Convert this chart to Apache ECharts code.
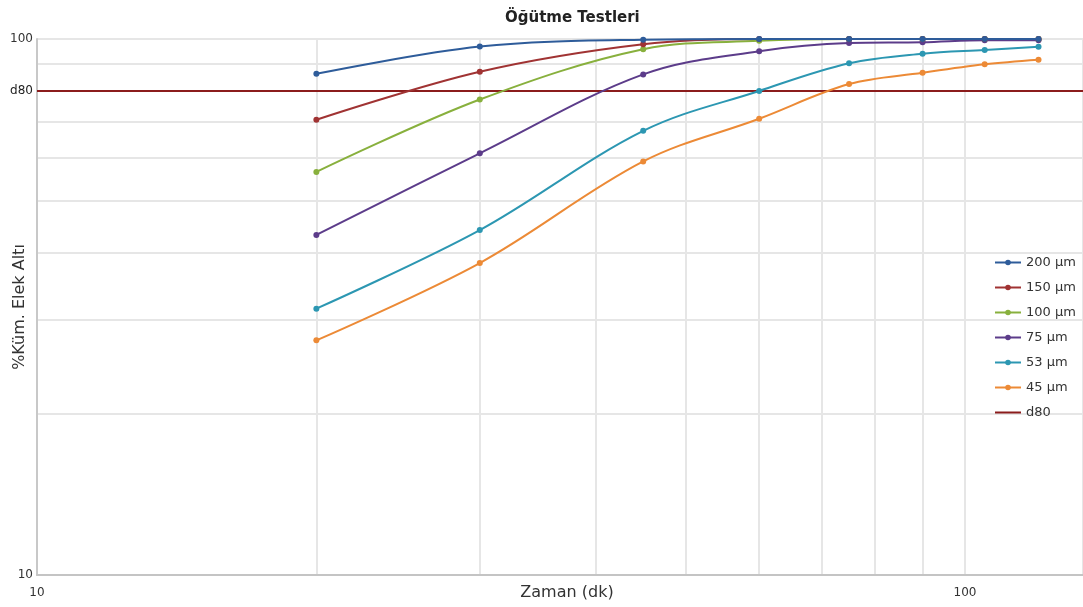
<!DOCTYPE html>
<html>
<head>
<meta charset="utf-8">
<script src="https://cdn.jsdelivr.net/npm/echarts@6/dist/echarts.min.js"></script>
<style>
    html, body { margin: 0; padding: 0; background: #fff; }
    #chart { width: 1083px; height: 607px; }
</style>
</head>
<body>
<div id="chart"></div>
<script>
// grinding test data, time in minutes (log x) vs cumulative passing % (log y)
var xTimes = [20, 30, 45, 60, 75, 90, 105, 120];
var seriesNames = ['200 µm', '150 µm', '100 µm', '75 µm', '53 µm', '45 µm'];
var s200 = [86.1, 96.8, 99.7, 100, 100, 100, 100, 100];
var s150 = [70.7, 86.9, 97.8, 100, 100, 100, 100, 100];
var s100 = [56.5, 77.1, 95.7, 99.2, 100, 100, 100, 100];
var s75 = [43.1, 61.2, 85.9, 94.9, 98.3, 98.6, 99.5, 99.5];
var s53 = [31.4, 44.0, 67.4, 80.0, 90.1, 93.9, 95.4, 96.7];
var s45 = [27.4, 38.2, 59.1, 71.0, 82.4, 86.5, 89.7, 91.5];
var d80Value = 80;
var xGridVals = [20, 30, 40, 50, 60, 70, 80, 90];
var yGridVals = [20, 30, 40, 50, 60, 70, 80, 90];
var colors = ['#2e5c9a', '#a03333', '#88b03d', '#5c3c8a', '#2c97b2', '#ec8a36'];
var d80Color = '#8b1c1c';

var allValues = [s200, s150, s100, s75, s53, s45];
var font = 'DejaVu Sans';

var series = [];
allValues.map(function (vals, i) {
    series.push({
        name: seriesNames[i],
        type: 'line',
        data: xTimes.map(function (x, j) { return [x, vals[j]]; }),
        smooth: 0.35,
        symbol: 'circle',
        symbolSize: 6,
        color: colors[i],
        lineStyle: { width: 2 },
        z: 10 - i
    });
});

// d80 reference line
series.push({
    name: 'd80',
    type: 'line',
    data: [],
    symbol: 'none',
    color: d80Color,
    lineStyle: { width: 2 },
    markLine: {
        silent: true,
        symbol: 'none',
        z: 3,
        lineStyle: { color: d80Color, width: 2, type: 'solid' },
        label: { show: true, position: 'start', formatter: 'd80', color: '#222', fontSize: 12, fontFamily: font, distance: 4 },
        data: [{ yAxis: d80Value }]
    },
    z: 12
});

// minor grid lines (log axis minor split lines)
var gridLines = [];
xGridVals.map(function (v) { gridLines.push({ xAxis: v }); });
yGridVals.map(function (v) { gridLines.push({ yAxis: v }); });
series.push({
    name: 'grid',
    type: 'line',
    data: [],
    markLine: {
        silent: true,
        symbol: 'none',
        z: 0,
        label: { show: false },
        lineStyle: { color: '#e6e6e6', width: 2, type: 'solid' },
        data: gridLines
    },
    z: 0
});

var legendData = seriesNames.map(function (n) { return { name: n }; });
legendData.push({ name: 'd80', itemStyle: { opacity: 0 } });

var option = {
    backgroundColor: '#fff',
    animation: false,
    title: {
        text: 'Öğütme Testleri',
        left: 500,
        top: 6,
        textStyle: { fontFamily: font, fontSize: 15, fontWeight: 'bold', color: '#222' }
    },
    legend: {
        data: legendData,
        orient: 'vertical',
        left: 989,
        top: 251,
        z: 30,
        itemWidth: 26,
        itemHeight: 7,
        itemGap: 12,
        textStyle: { fontFamily: font, fontSize: 13, color: '#333' }
    },
    grid: {
        left: 37,
        right: 0,
        top: 39,
        bottom: 32,
        outerBoundsMode: 'none',
        containLabel: false
    },
    xAxis: {
        type: 'log',
        logBase: 10,
        min: 10,
        max: 134,
        name: 'Zaman (dk)',
        nameLocation: 'middle',
        nameGap: 10,
        nameMoveOverlap: false,
        nameTextStyle: { fontFamily: font, fontSize: 16, color: '#333', padding: [0, 0, 0, 14] },
        axisLine: { lineStyle: { color: '#c4c4c4', width: 2 } },
        axisTick: { show: false },
        axisLabel: { fontFamily: font, fontSize: 12, color: '#333', margin: 12, showMaxLabel: false },
        splitLine: { show: true, lineStyle: { color: '#e6e6e6', width: 2 } }
    },
    yAxis: {
        type: 'log',
        logBase: 10,
        min: 10,
        max: 100,
        name: '%Küm. Elek Altı',
        nameLocation: 'middle',
        nameGap: 9,
        nameMoveOverlap: false,
        nameTextStyle: { fontFamily: font, fontSize: 16, color: '#333' },
        axisLine: { show: true, lineStyle: { color: '#c8c8c8', width: 2 } },
        axisTick: { show: false },
        axisLabel: { fontFamily: font, fontSize: 12, color: '#333', margin: 4 },
        splitLine: { show: true, lineStyle: { color: '#e6e6e6', width: 2 } }
    },
    series: series
};

echarts.init(document.getElementById('chart')).setOption(option);
</script>
</body>
</html>
